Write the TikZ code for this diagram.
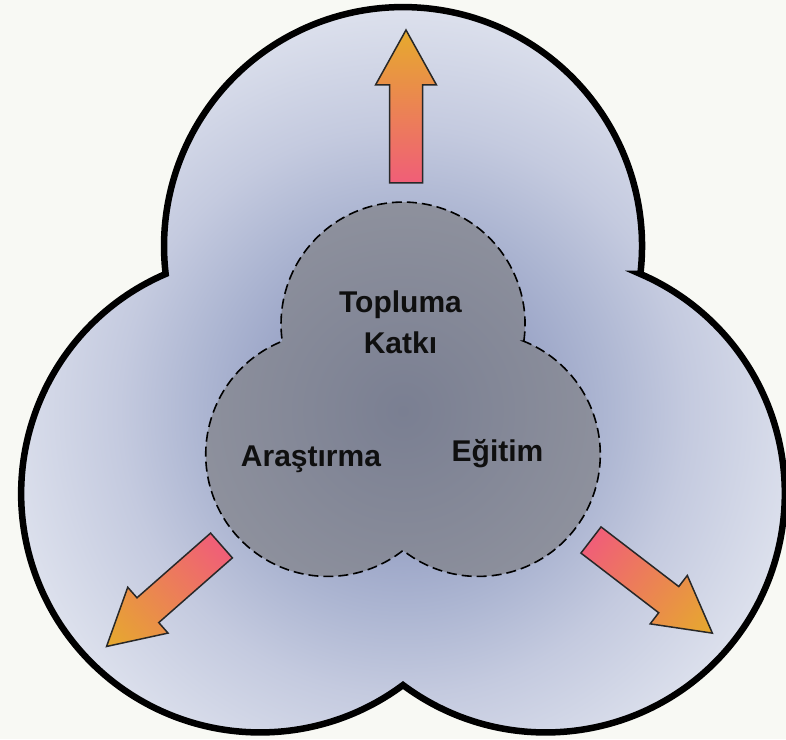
\documentclass[tikz,border=0pt]{standalone}
\usepackage{fontspec}
\setmainfont{Liberation Sans}
\definecolor{bgcol}{RGB}{248,249,244}
\definecolor{haloA}{RGB}{118,128,168}
\definecolor{haloB}{RGB}{152,162,197}
\definecolor{haloC}{RGB}{173,182,210}
\definecolor{haloD}{RGB}{196,202,223}
\definecolor{haloE}{RGB}{221,225,237}
\definecolor{coreA}{RGB}{122,127,146}
\definecolor{coreB}{RGB}{142,145,157}
\definecolor{tailpink}{RGB}{240,94,120}
\definecolor{headorange}{RGB}{230,170,45}
\definecolor{arrowline}{RGB}{40,40,40}
\definecolor{textcol}{RGB}{15,15,15}
\pgfdeclareradialshading{outerglow}{\pgfpoint{0bp}{0bp}}{color(0bp)=(haloA); color(7.5bp)=(haloB); color(12.5bp)=(haloC); color(17.5bp)=(haloD); color(25bp)=(haloE); color(50bp)=(haloE)}
\pgfdeclareradialshading{coreglow}{\pgfpoint{0bp}{0bp}}{color(0bp)=(coreA); color(25bp)=(coreB); color(50bp)=(coreB)}
\tikzset{
  lbl/.style={font=\fontsize{30}{41}\selectfont\bfseries, align=center, text=textcol, inner sep=0pt},
  blockarrow/.style={left color=tailpink, right color=headorange, draw=arrowline, line width=1.5pt, line join=miter},
  outerline/.style={draw=black, line width=6.5pt, line join=miter},
  innerline/.style={draw=black, line width=1.6pt, dash pattern=on 10pt off 5pt}
}
\begin{document}
\begin{tikzpicture}[x=1pt,y=1pt]
\useasboundingbox (-403,-328) rectangle (383,411);
\fill[bgcol] (-403,-328) rectangle (383,411);
% outer trefoil
\begin{scope}
\clip (30:274.1) arc[start angle=-6.7, end angle=186.7, radius=239]
  arc[start angle=113.3, end angle=306.7, radius=239]
  arc[start angle=233.3, end angle=426.7, radius=239] -- cycle;
\shade[shading=outerglow] (0,0) circle[radius=405];
\end{scope}
\path[outerline] (30:274.1) arc[start angle=-6.7, end angle=186.7, radius=239]
  arc[start angle=113.3, end angle=306.7, radius=239]
  arc[start angle=233.3, end angle=426.7, radius=239] -- cycle;
% inner trefoil
\begin{scope}
\clip (30:139.5) arc[start angle=-8.1, end angle=188.1, radius=122]
  arc[start angle=111.9, end angle=308.1, radius=122]
  arc[start angle=231.9, end angle=428.1, radius=122] -- cycle;
\shade[shading=coreglow] (0,0) circle[radius=212];
\end{scope}
\path[innerline] (30:139.5) arc[start angle=-8.1, end angle=188.1, radius=122]
  arc[start angle=111.9, end angle=308.1, radius=122]
  arc[start angle=231.9, end angle=428.1, radius=122] -- cycle;
% arrows
\begin{scope}[transform canvas={shift={(3,228)}, rotate=90}]
\shade[blockarrow] (0,-16.5) -- (98,-16.5) -- (98,-30.5) -- (153,0) -- (98,30.5) -- (98,16.5) -- (0,16.5) -- cycle;
\end{scope}
\begin{scope}[transform canvas={shift={(-181.5,-134.5)}, rotate=221.3}]
\shade[blockarrow] (0,-16.5) -- (98,-16.5) -- (98,-30.5) -- (153,0) -- (98,30.5) -- (98,16.5) -- (0,16.5) -- cycle;
\end{scope}
\begin{scope}[transform canvas={shift={(188,-129)}, rotate=322.5}]
\shade[blockarrow] (0,-16.5) -- (98,-16.5) -- (98,-30.5) -- (153,0) -- (98,30.5) -- (98,16.5) -- (0,16.5) -- cycle;
\end{scope}
% labels
\node[lbl] (toplum) at (-2.5,88.5) {Topluma\\Katkı};
\node[lbl, anchor=base] (arastirma) at (-92,-55) {Araştırma};
\node[lbl, anchor=base] (egitim) at (94.5,-50) {Eğitim};
\end{tikzpicture}
\end{document}
